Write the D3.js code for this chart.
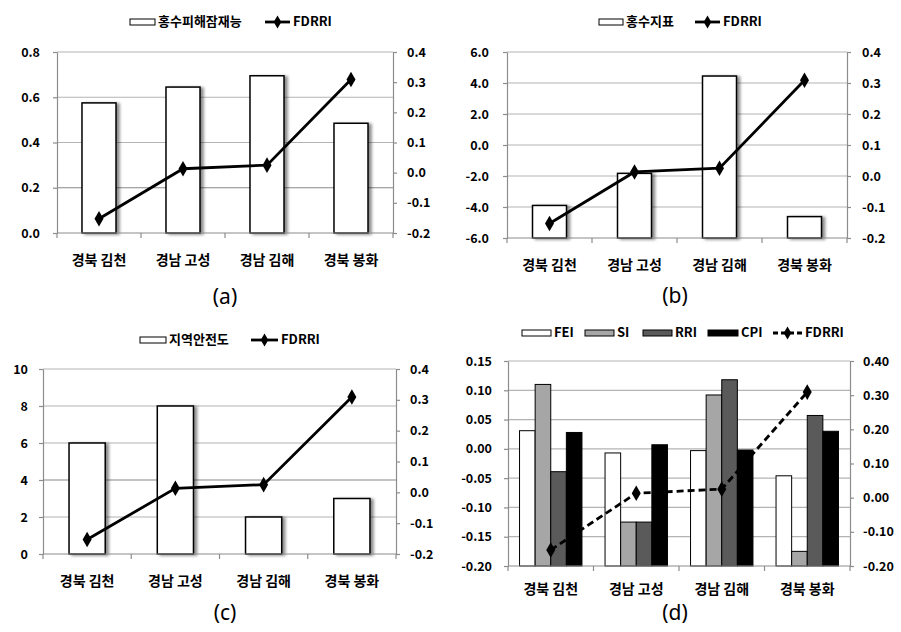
<!DOCTYPE html>
<html><head><meta charset="utf-8">
<script src="https://cdn.jsdelivr.net/npm/d3@7"></script>
<style>body{margin:0;background:#fff}svg{display:block}</style>
</head><body>
<svg id="chart" width="901" height="632"></svg>
<script>
// ---- data ----
const categories = ["경북 김천", "경남 고성", "경남 김해", "경북 봉화"];
const fdrri = [-0.153, 0.013, 0.025, 0.309];
const floodDamagePotential = [0.575, 0.645, 0.695, 0.485];   // 홍수피해잠재능
const floodIndex = [-3.9, -1.83, 4.45, -4.62];               // 홍수지표
const regionalSafety = [6, 8, 2, 3];                         // 지역안전도
const fei = [0.031, -0.007, -0.003, -0.046];
const si  = [0.110, -0.125, 0.092, -0.175];
const rri = [-0.039, -0.125, 0.118, 0.057];
const cpi = [0.028, 0.007, -0.002, 0.030];
const ticksA = [0, 0.2, 0.4, 0.6, 0.8];
const ticksB = [-6, -4, -2, 0, 2, 4, 6];
const ticksC = [0, 2, 4, 6, 8, 10];
const ticksD = [-0.20, -0.15, -0.10, -0.05, 0, 0.05, 0.10, 0.15];
const ticksRight = [-0.2, -0.1, 0, 0.1, 0.2, 0.3, 0.4];
const panelLabels = ["(a)", "(b)", "(c)", "(d)"];
const seriesD = ["FEI", "SI", "RRI", "CPI"];

const svg = d3.select("#chart");
const FONT = "'Noto Sans CJK KR', 'Noto Sans', sans-serif";
const defs = svg.append("defs");
const filt = defs.append("filter").attr("id", "sh")
  .attr("x", "-30%").attr("y", "-10%").attr("width", "170%").attr("height", "130%");
filt.append("feDropShadow").attr("dx", 3).attr("dy", 1).attr("stdDeviation", 1.6)
  .attr("flood-color", "#000").attr("flood-opacity", 0.45);

function fmt(n) { return v => (Math.abs(v) < 1e-9 ? 0 : v).toFixed(n); }

function panel(o) {
  const g = svg.append("g");
  const x = d3.scaleBand().domain(categories).range([o.x0, o.x1]);
  const yL = d3.scaleLinear().domain(o.leftDomain).range([o.y1, o.y0]);
  const yR = d3.scaleLinear().domain(o.rightDomain).range([o.y1, o.y0]);

  // gridlines
  g.append("g").selectAll("line").data(o.leftTicks.filter(t => t !== o.leftDomain[0])).join("line")
    .attr("x1", o.x0).attr("x2", o.x1)
    .attr("y1", d => yL(d)).attr("y2", d => yL(d))
    .attr("stroke", d => (o.darkGrid !== undefined && Math.abs(d - o.darkGrid) < 1e-9) ? "#888" : "#b4b4b4")
    .attr("stroke-width", 1.2);

  // bars
  if (o.bars) {
    const bw = x.bandwidth() * o.barFrac;
    g.append("g").selectAll("rect").data(o.bars).join("rect")
      .attr("x", (d, i) => x(categories[i]) + (x.bandwidth() - bw) / 2)
      .attr("y", d => yL(d))
      .attr("width", bw)
      .attr("height", d => yL(o.leftDomain[0]) - yL(d))
      .attr("fill", "#fff").attr("stroke", "#000").attr("stroke-width", 1.5)
      .attr("filter", "url(#sh)");
  }
  if (o.groups) {
    const inner = d3.scaleBand().domain(o.groups.map(s => s.name))
      .range([0, x.bandwidth() * o.barFrac]);
    const off = (x.bandwidth() - x.bandwidth() * o.barFrac) / 2;
    o.groups.forEach(s => {
      g.append("g").selectAll("rect").data(s.values).join("rect")
        .attr("x", (d, i) => x(categories[i]) + off + inner(s.name))
        .attr("y", d => yL(d))
        .attr("width", inner.bandwidth())
        .attr("height", d => yL(o.leftDomain[0]) - yL(d))
        .attr("fill", s.color).attr("stroke", "#000").attr("stroke-width", 1);
    });
  }

  // axes
  const styleAxis = (sel) => {
    sel.selectAll("path, line").attr("stroke", "#8c8c8c").attr("stroke-width", 1.2);
    sel.selectAll("text").attr("font-family", FONT).attr("font-weight", "bold")
      .attr("font-size", 12.5).attr("fill", "#000");
  };
  g.append("g").attr("transform", `translate(${o.x0},0)`)
    .call(d3.axisLeft(yL).tickValues(o.leftTicks).tickFormat(o.leftFmt).tickSize(4).tickSizeOuter(0).tickPadding(o.lpad))
    .call(styleAxis);
  g.append("g").attr("transform", `translate(${o.x1},0)`)
    .call(d3.axisRight(yR).tickValues(ticksRight).tickFormat(o.rightFmt).tickSize(4).tickSizeOuter(0).tickPadding(o.rpad))
    .call(styleAxis);
  // bottom axis with ticks at category boundaries
  const bounds = categories.map(c => x(c)).concat([o.x1]);
  g.append("line").attr("x1", o.x0).attr("x2", o.x1).attr("y1", o.y1).attr("y2", o.y1)
    .attr("stroke", "#8c8c8c").attr("stroke-width", 1.2);
  g.append("g").selectAll("line").data(bounds).join("line")
    .attr("x1", d => d).attr("x2", d => d).attr("y1", o.y1).attr("y2", o.y1 + 5)
    .attr("stroke", "#8c8c8c").attr("stroke-width", 1.2);
  g.append("g").selectAll("text").data(categories).join("text")
    .attr("x", d => x(d) + x.bandwidth() / 2).attr("y", o.catY)
    .attr("text-anchor", "middle").attr("dominant-baseline", "middle")
    .attr("font-family", FONT).attr("font-weight", "bold").attr("font-size", 14).text(d => d);

  // FDRRI line
  const pts = fdrri.map((v, i) => [x(categories[i]) + x.bandwidth() / 2, yR(v)]);
  g.append("path").attr("d", d3.line()(pts)).attr("fill", "none").attr("stroke", "#000")
    .attr("stroke-width", 2.8).attr("stroke-dasharray", o.dashed ? "7,4" : null);
  g.append("g").selectAll("path").data(pts).join("path")
    .attr("transform", d => `translate(${d[0]},${d[1]})`)
    .attr("d", d3.symbol(d3.symbolDiamond, 70)).attr("fill", "#000");

  // legend
  o.legend.forEach(l => {
    if (l.type === "box") {
      g.append("rect").attr("x", l.x).attr("y", o.legY - 3).attr("width", l.w).attr("height", 6)
        .attr("fill", l.color).attr("stroke", "#000").attr("stroke-width", 1);
    } else {
      g.append("line").attr("x1", l.x).attr("x2", l.x + l.w).attr("y1", o.legY).attr("y2", o.legY)
        .attr("stroke", "#000").attr("stroke-width", 2.8).attr("stroke-dasharray", o.dashed ? "5,3" : null);
      g.append("path").attr("transform", `translate(${l.x + l.w / 2},${o.legY})`)
        .attr("d", d3.symbol(d3.symbolDiamond, 50)).attr("fill", "#000");
    }
    g.append("text").attr("x", l.x + l.w + 3).attr("y", o.legY).attr("dominant-baseline", "middle")
      .attr("font-family", FONT).attr("font-weight", "bold").attr("font-size", 13).text(l.label);
  });

  // panel label
  g.append("text").attr("x", o.labX).attr("y", o.labY).attr("text-anchor", "middle")
    .attr("dominant-baseline", "middle").attr("font-family", "'Noto Sans', sans-serif")
    .attr("font-size", 21).text(o.label);
}

panel({
  x0: 57, x1: 393, y0: 52, y1: 233,
  leftDomain: [0, 0.8], rightDomain: [-0.2, 0.4],
  leftTicks: ticksA, leftFmt: fmt(1), rightFmt: fmt(1), lpad: 13, rpad: 10,
  darkGrid: 0.2,
  bars: floodDamagePotential, barFrac: 0.405,
  catY: 261, legY: 22, label: panelLabels[0], labX: 225, labY: 298,
  legend: [{type: "box", x: 130, w: 25, color: "#fff", label: "홍수피해잠재능"},
           {type: "line", x: 265, w: 25, label: "FDRRI"}]
});
panel({
  x0: 507, x1: 847, y0: 52, y1: 238,
  leftDomain: [-6, 6], rightDomain: [-0.2, 0.4],
  leftTicks: ticksB, leftFmt: fmt(1), rightFmt: fmt(1), lpad: 14, rpad: 11,
  bars: floodIndex, barFrac: 0.4,
  catY: 266, legY: 22, label: panelLabels[1], labX: 675, labY: 297,
  legend: [{type: "box", x: 599, w: 24, color: "#fff", label: "홍수지표"},
           {type: "line", x: 695, w: 25, label: "FDRRI"}]
});
panel({
  x0: 43, x1: 396, y0: 369, y1: 554,
  leftDomain: [0, 10], rightDomain: [-0.2, 0.4],
  leftTicks: ticksC, leftFmt: fmt(0), rightFmt: fmt(1), lpad: 11, rpad: 10,
  darkGrid: 4,
  bars: regionalSafety, barFrac: 0.41,
  catY: 582, legY: 340, label: panelLabels[2], labX: 225, labY: 614,
  legend: [{type: "box", x: 140, w: 26, color: "#fff", label: "지역안전도"},
           {type: "line", x: 251, w: 27, label: "FDRRI"}]
});
const colorsD = ["#ffffff", "#a6a6a6", "#5a5a5a", "#000000"];
panel({
  x0: 508, x1: 850, y0: 361, y1: 566,
  leftDomain: [-0.2, 0.15], rightDomain: [-0.2, 0.4],
  leftTicks: ticksD, leftFmt: fmt(2), rightFmt: fmt(2), lpad: 12, rpad: 9,
  groups: [fei, si, rri, cpi].map((v, i) => ({name: seriesD[i], values: v, color: colorsD[i]})),
  barFrac: 0.73, dashed: true,
  catY: 590, legY: 333, label: panelLabels[3], labX: 675, labY: 614,
  legend: [{type: "box", x: 522, w: 29, color: colorsD[0], label: "FEI"},
           {type: "box", x: 585, w: 29, color: colorsD[1], label: "SI"},
           {type: "box", x: 643, w: 29, color: colorsD[2], label: "RRI"},
           {type: "box", x: 708, w: 30, color: colorsD[3], label: "CPI"},
           {type: "line", x: 773, w: 29, label: "FDRRI"}]
});
</script>
</body></html>
